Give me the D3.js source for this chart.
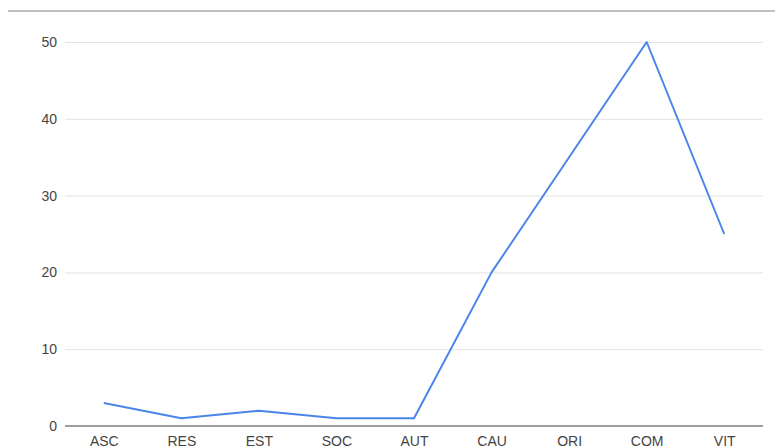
<!DOCTYPE html>
<html>
<head>
<meta charset="utf-8">
<script src="https://cdn.jsdelivr.net/npm/d3@7"></script>
<style>
  html, body { margin: 0; padding: 0; background: #fff; }
  svg { display: block; }
</style>
</head>
<body>
<svg id="chart" width="775" height="447"></svg>
<script>
const categories = ["ASC", "RES", "EST", "SOC", "AUT", "CAU", "ORI", "COM", "VIT"];
const values = [3, 1, 2, 1, 1, 20, 35, 50, 25];
const yTicks = [0, 10, 20, 30, 40, 50];

const svg = d3.select("#chart");
const plot = { left: 65, right: 763, top: 42, bottom: 426 };

// top frame rule
svg.append("line")
  .attr("x1", 8).attr("x2", 775).attr("y1", 11).attr("y2", 11)
  .attr("stroke", "#c0c0c0").attr("stroke-width", 2);

const x = d3.scalePoint().domain(categories).range([plot.left, plot.right]).padding(0.5);
const y = d3.scaleLinear().domain([0, 50]).range([plot.bottom, plot.top]);

// gridlines and y labels
const yAxis = d3.axisLeft(y).tickValues(yTicks).tickSize(-(plot.right - plot.left)).tickPadding(8);
const gy = svg.append("g").attr("transform", `translate(${plot.left},0)`).call(yAxis);
gy.select(".domain").remove();
gy.selectAll(".tick line").attr("stroke", "#e3e3e3").attr("stroke-width", 1);
gy.selectAll(".tick text")
  .attr("fill", "#444").attr("font-family", "Arial, 'Liberation Sans', sans-serif")
  .attr("font-size", 14);

// baseline
svg.append("line")
  .attr("x1", plot.left).attr("x2", plot.right).attr("y1", y(0)).attr("y2", y(0))
  .attr("stroke", "#9e9e9e").attr("stroke-width", 2);

// x labels
const xAxis = d3.axisBottom(x).tickSize(0).tickPadding(10);
const gx = svg.append("g").attr("transform", `translate(0,${plot.bottom})`).call(xAxis);
gx.select(".domain").remove();
gx.selectAll(".tick text")
  .attr("fill", "#444").attr("font-family", "Arial, 'Liberation Sans', sans-serif")
  .attr("font-size", 14);

// series line
const line = d3.line().x((d, i) => x(categories[i])).y(d => y(d));
svg.append("path")
  .datum(values)
  .attr("d", line)
  .attr("fill", "none")
  .attr("stroke", "#4a86e8")
  .attr("stroke-width", 2)
  .attr("stroke-linejoin", "round");
</script>
</body>
</html>
